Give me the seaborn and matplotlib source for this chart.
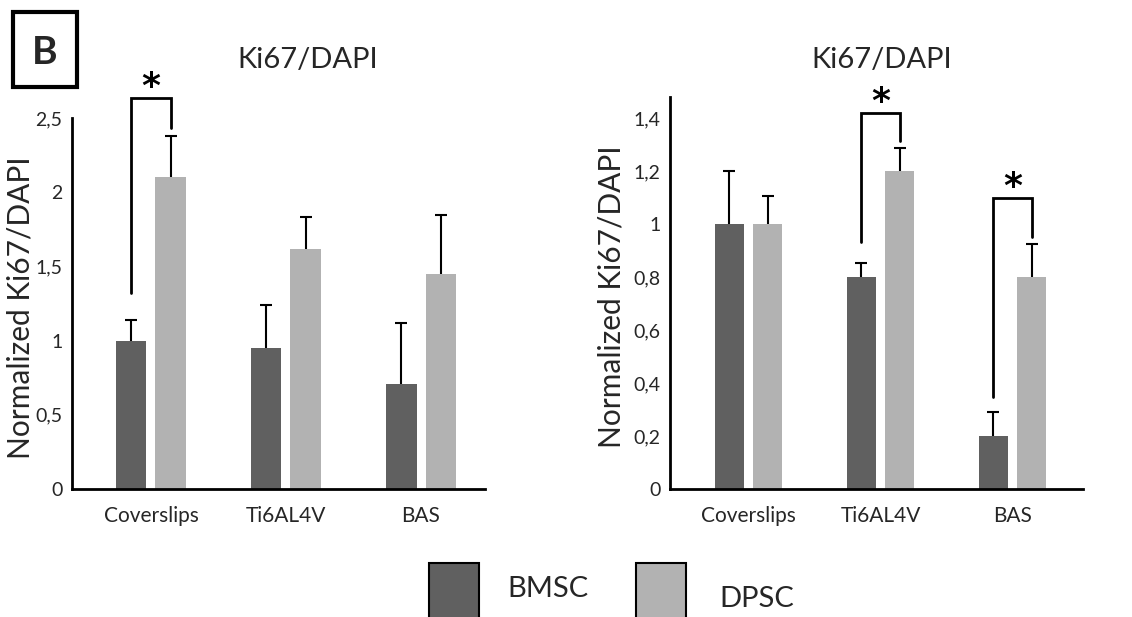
import numpy as np
import pandas as pd
import matplotlib
matplotlib.use("Agg")
import matplotlib.pyplot as plt
import seaborn as sns
from matplotlib.patches import Rectangle

# ---------------- data ----------------
categories = ["Coverslips", "Ti6AL4V", "BAS"]
groups = ["BMSC", "DPSC"]

left_bmsc = [1.00, 0.95, 0.71]
left_bmsc_err = [0.14, 0.29, 0.41]
left_dpsc = [2.10, 1.615, 1.45]
left_dpsc_err = [0.28, 0.22, 0.395]

right_bmsc = [1.00, 0.80, 0.20]
right_bmsc_err = [0.20, 0.053, 0.09]
right_dpsc = [1.00, 1.20, 0.80]
right_dpsc_err = [0.107, 0.087, 0.126]

left_yticks = [0, 0.5, 1, 1.5, 2, 2.5]
left_yticklabels = ["0", "0,5", "1", "1,5", "2", "2,5"]
right_yticks = [0, 0.2, 0.4, 0.6, 0.8, 1.0, 1.2, 1.4]
right_yticklabels = ["0", "0,2", "0,4", "0,6", "0,8", "1", "1,2", "1,4"]

# significance brackets: (category index, left foot, top, right foot)
left_sig = [(0, 1.32, 2.635, 2.43)]
right_sig = [(1, 0.934, 1.419, 1.312), (2, 0.346, 1.098, 0.95)]

title = "Ki67/DAPI"
ylabel = "Normalized Ki67/DAPI"
colors = ["#606060", "#b2b2b2"]

W, H = 1132, 617

# ---------------- style ----------------
sns.set_theme(style="white")
plt.rcParams["font.family"] = ["Lato", "DejaVu Sans"]

fig = plt.figure(figsize=(W / 100, H / 100), dpi=100)
axL = fig.add_axes([72 / W, 1 - 489 / H, 413 / W, (489 - 118) / H])
axR = fig.add_axes([670 / W, 1 - 489 / H, 413 / W, (489 - 97) / H])


def panel(ax, bmsc, bmsc_err, dpsc, dpsc_err, ylim, yticks, yticklabels, xlim, sig,
          label_xy):
    df = pd.DataFrame({
        "cat": categories * 2,
        "grp": [groups[0]] * 3 + [groups[1]] * 3,
        "val": list(bmsc) + list(dpsc),
    })
    sns.barplot(data=df, x="cat", y="val", hue="grp", order=categories,
                hue_order=groups, palette=colors, width=0.58, gap=0.23,
                errorbar=None, saturation=1, ax=ax, legend=False, edgecolor="none")
    errs = [bmsc_err, dpsc_err]
    vals = [bmsc, dpsc]
    centers = []
    for cont, v, e in zip(ax.containers, vals, errs):
        xs = np.array([p.get_x() + p.get_width() / 2 for p in cont.patches])
        centers.append(xs)
        tops = np.array(v) + np.array(e)
        ax.vlines(xs, v, tops, color="black", lw=1.5, zorder=3)
        ax.plot(xs, tops, ls="none", marker="_", ms=9, mew=1.5, color="black", zorder=3)
    for ci, yl, yt, yr in sig:
        xl = centers[0][ci]
        xr = centers[1][ci]
        ax.plot([xl, xl, xr, xr], [yl, yt, yt, yr], color="black", lw=2,
                solid_joinstyle="miter", clip_on=False, zorder=4)
        ax.annotate("*", ((xl + xr) / 2, yt), xytext=(0, 8), textcoords="offset points",
                    ha="center", va="center", fontsize=26, fontweight="bold",
                    family="DejaVu Sans", color="black", annotation_clip=False)
    ax.set_ylim(*ylim)
    ax.set_xlim(*xlim)
    ax.set_yticks(yticks)
    ax.set_yticklabels(yticklabels, fontsize=14)
    ax.set_xticks(range(len(categories)))
    ax.set_xticklabels(categories, fontsize=15)
    ax.tick_params(axis="y", length=0, pad=7)
    ax.tick_params(axis="x", length=0, pad=12)
    ax.set_xlabel("")
    ax.set_ylabel(ylabel, fontsize=21.5)
    ax.yaxis.set_label_coords(*label_xy)
    for s in ["top", "right"]:
        ax.spines[s].set_visible(False)
    for s in ["left", "bottom"]:
        ax.spines[s].set_color("black")
        ax.spines[s].set_linewidth(2)


panel(axL, left_bmsc, left_bmsc_err, left_dpsc, left_dpsc_err, (0, 2.5),
      left_yticks, left_yticklabels, (-0.585, 2.474), left_sig, (-0.092, 0.49))
panel(axR, right_bmsc, right_bmsc_err, right_dpsc, right_dpsc_err, (0, 1.48),
      right_yticks, right_yticklabels, (-0.595, 2.534), right_sig, (-0.108, 0.49))

# titles
fig.text(308 / W, 1 - 60 / H, title, ha="center", va="center", fontsize=21)
fig.text(882 / W, 1 - 60 / H, title, ha="center", va="center", fontsize=21)

# panel letter box
fig.add_artist(Rectangle((13 / W, 1 - 87 / H), 64 / W, 75 / H,
                         transform=fig.transFigure, fill=False, lw=3, ec="black"))
fig.text(45 / W, 1 - 52 / H, "B", ha="center", va="center", fontsize=28,
         fontweight="bold")

# legend (drawn as figure artists)
fig.add_artist(Rectangle((429 / W, 1 - 620 / H), 50 / W, 57 / H, transform=fig.transFigure,
                         fc=colors[0], ec="black", lw=1.5))
fig.add_artist(Rectangle((636 / W, 1 - 620 / H), 50 / W, 57 / H, transform=fig.transFigure,
                         fc=colors[1], ec="black", lw=1.5))
fig.text(507 / W, 1 - 589 / H, groups[0], ha="left", va="center", fontsize=21)
fig.text(719 / W, 1 - 599 / H, groups[1], ha="left", va="center", fontsize=21)

fig.savefig("out.png", dpi=100)
